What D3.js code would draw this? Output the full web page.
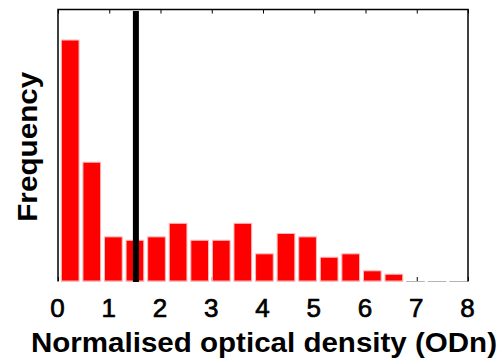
<!DOCTYPE html>
<html>
<head>
<meta charset="utf-8">
<script src="https://cdn.jsdelivr.net/npm/d3@7"></script>
<style>
html,body{margin:0;padding:0;background:#fff;}
svg{display:block;}
text{font-family:"Liberation Sans",Arial,sans-serif;fill:#000;}
</style>
</head>
<body>
<svg id="chart" width="502" height="363"></svg>
<script>
// Data
const counts = [71,35,13,12,13,17,12,12,17,8,14,13,7,8,3,2,0,0,0];
const firstBinCenter = 0.238;
const binWidth = 8/19;
const thresholdODn = 1.52;
const xTicks = [0,1,2,3,4,5,6,7,8];
const xLabel = "Normalised optical density (ODn)";
const yLabel = "Frequency";

const W = 502, H = 363;
const m = {left:58, right:34, top:9.5, bottom:82};
const svg = d3.select("#chart");

const x = d3.scaleLinear().domain([0,8]).range([m.left, W - m.right]);
const y = d3.scaleLinear().domain([0,80]).range([H - m.bottom, m.top]);

const bins = counts.map((c,i)=>({c, center: firstBinCenter + i*binWidth}));
const barW = (x(binWidth) - x(0)) * 0.82;

// bottom ticks (mostly hidden behind bars)
const gb = svg.append("g").attr("transform",`translate(0,${y(0)})`)
  .call(d3.axisBottom(x).tickValues(xTicks).tickSize(-4).tickFormat(""));
gb.select(".domain").remove();
gb.selectAll("line").attr("stroke","#000").attr("stroke-width",1);

// top ticks
const gt = svg.append("g").attr("transform",`translate(0,${y(80)})`)
  .call(d3.axisTop(x).tickValues(xTicks).tickSize(-4).tickFormat(""));
gt.select(".domain").remove();
gt.selectAll("line").attr("stroke","#000").attr("stroke-width",1);

// baseline segments per bin (edges of each bar, grey for empty bins)
svg.append("g").selectAll("line").data(bins).join("line")
  .attr("x1", d => x(d.center) - barW/2 - 0.5)
  .attr("x2", d => x(d.center) + barW/2 + 0.5)
  .attr("y1", y(0)+0.5).attr("y2", y(0)+0.5)
  .attr("stroke", d => d.c > 0 ? "#ffc0c0" : "#b4b4b4")
  .attr("stroke-width", 1);

// bars
svg.append("g").selectAll("rect").data(bins.filter(d => d.c > 0)).join("rect")
  .attr("x", d => x(d.center) - barW/2)
  .attr("width", barW)
  .attr("y", d => y(d.c))
  .attr("height", d => y(0) - y(d.c))
  .attr("fill", "#ff0000")
  .attr("stroke", "#ffb8b8")
  .attr("stroke-width", 1);

// box: left, top, right
svg.append("path")
  .attr("d", `M${x(0)},${y(0)+0.5}V${y(80)}H${x(8)}V${y(0)+0.5}`)
  .attr("fill","none").attr("stroke","#000").attr("stroke-width",1.5);

// threshold line
svg.append("line")
  .attr("x1", x(thresholdODn)).attr("x2", x(thresholdODn))
  .attr("y1", y(80)+1.5).attr("y2", y(0)+1)
  .attr("stroke","#000").attr("stroke-width",6);

// tick labels
svg.append("g").selectAll("text").data(xTicks).join("text")
  .attr("x", d => x(d) - 0.5)
  .attr("y", 316.5)
  .attr("text-anchor","middle")
  .attr("font-size", 26)
  .attr("stroke", "#000")
  .attr("stroke-width", 0.7)
  .text(d => d);

// x title
svg.append("text")
  .attr("x", (x(0)+x(8))/2 + 1)
  .attr("y", 352)
  .attr("text-anchor","middle")
  .attr("font-size", 27)
  .attr("font-weight","bold")
  .attr("textLength", 466)
  .attr("lengthAdjust","spacingAndGlyphs")
  .text(xLabel);

// y title
svg.append("text")
  .attr("transform", `translate(36.5,${(y(0)+y(80))/2 + 1.5}) rotate(-90)`)
  .attr("text-anchor","middle")
  .attr("font-size", 27)
  .attr("font-weight","bold")
  .attr("textLength", 150)
  .attr("lengthAdjust","spacingAndGlyphs")
  .text(yLabel);
</script>
</body>
</html>
